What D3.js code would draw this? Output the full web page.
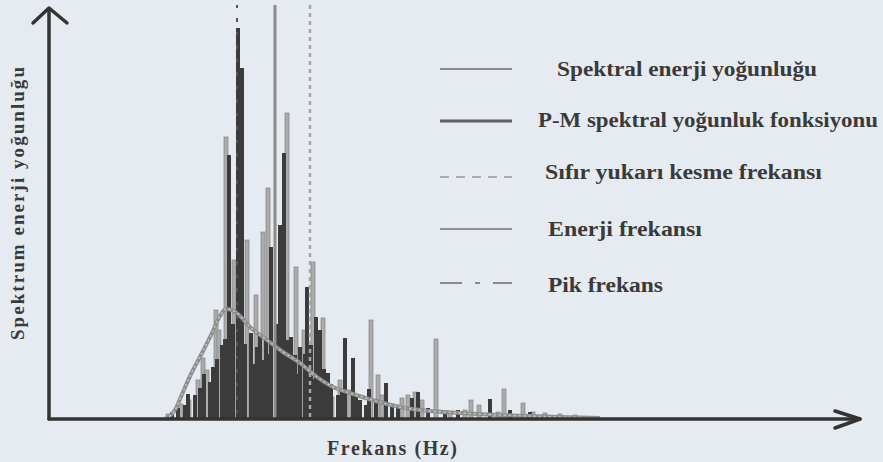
<!DOCTYPE html>
<html>
<head>
<meta charset="utf-8">
<script src="https://cdn.jsdelivr.net/npm/d3@7"></script>
<style>
  body { margin: 0; background: #e6eaf1; }
  svg { display: block; }
</style>
</head>
<body>
<div id="chart"></div>
<script>
"use strict";

// spectrum, dark series (Hz, density)
const darkFreq = [1.23, 1.29, 1.36, 1.39, 1.46, 1.51, 1.55, 1.61, 1.64, 1.68, 1.73, 1.76, 1.80, 1.84, 1.89, 1.93,
    1.96, 2.02, 2.05, 2.08, 2.11, 2.13, 2.17, 2.20, 2.22, 2.27, 2.29, 2.31, 2.35, 2.39, 2.42, 2.44, 2.46, 2.49,
    2.51, 2.56, 2.58, 2.62, 2.65, 2.67, 2.71, 2.75, 2.79, 2.82, 2.89, 2.93, 2.96, 3.04, 3.07, 3.11, 3.17, 3.20,
    3.27, 3.37, 3.43, 3.49, 3.63, 3.69, 3.79, 3.96, 4.09, 4.41, 4.61, 4.81];
const darkVal = [0.07, 0.11, 0.14, 0.25, 0.24, 0.31, 0.45, 0.37, 0.52, 0.60, 0.74, 0.80, 2.64, 0.95, 3.91, 3.51,
    0.75, 0.86, 0.55, 0.72, 0.85, 0.59, 0.79, 0.65, 1.72, 0.69, 0.95, 1.94, 2.66, 0.79, 0.82, 0.55, 0.64, 0.45,
    0.72, 0.65, 1.32, 0.74, 0.40, 1.02, 0.89, 0.50, 0.46, 0.35, 0.24, 0.28, 0.81, 0.61, 0.25, 0.19, 0.14, 0.30,
    0.20, 0.36, 0.14, 0.14, 0.21, 0.27, 0.11, 0.09, 0.09, 0.20, 0.09, 0.07];

// spectrum, grey series
const greyFreq = [1.19, 1.32, 1.40, 1.49, 1.54, 1.58, 1.67, 1.70, 1.77, 1.85, 1.98, 2.07, 2.14, 2.19, 2.38, 2.47,
    2.55, 2.64, 2.74, 2.83, 2.91, 3.00, 3.22, 3.29, 3.33, 3.53, 3.59, 3.66, 3.73, 3.87, 4.01, 4.16, 4.22, 4.30,
    4.49, 4.55, 4.74, 4.84, 4.96, 5.11, 5.26];
const greyVal = [0.05, 0.15, 0.19, 0.39, 0.61, 0.49, 1.09, 0.89, 2.82, 1.59, 1.79, 1.24, 1.87, 2.31, 3.06, 1.52,
    0.89, 1.57, 1.01, 0.22, 0.39, 0.29, 0.99, 0.44, 0.24, 0.21, 0.24, 0.27, 0.19, 0.80, 0.07, 0.09, 0.19, 0.14,
    0.07, 0.30, 0.16, 0.07, 0.06, 0.05, 0.04];

// P-M spectral density function
const pmFreq = [1.16, 1.26, 1.34, 1.43, 1.51, 1.63, 1.71, 1.77, 1.83, 1.91, 2.01, 2.18, 2.34, 2.51, 2.68, 2.84,
    3.01, 3.34, 3.51, 3.71, 4.11, 4.51, 5.11, 5.51];
const pmVal = [0.00, 0.09, 0.27, 0.47, 0.62, 0.86, 1.03, 1.10, 1.09, 1.03, 0.92, 0.79, 0.67, 0.56, 0.42, 0.32,
    0.26, 0.16, 0.12, 0.09, 0.06, 0.04, 0.02, 0.01];

// characteristic frequencies
const peakFreq = 1.88;
const energyFreq = 2.26;
const zeroUpFreq = 2.61;

const legendLabels = ["Spektral enerji yoğunluğu", "P-M spektral yoğunluk fonksiyonu",
    "Sıfır yukarı kesme frekansı", "Enerji frekansı", "Pik frekans"];
const xLabel = "Frekans (Hz)";
const yLabel = "Spektrum enerji yoğunluğu";

const msm = { width: 883, height: 462, left: 49, right: 860, top: 5, bottom: 419 };
const ink = "#333";
const serif = "Liberation Serif, Times New Roman, serif";

let svg = d3.select("#chart").append("svg")
    .attr("width", msm.width)
    .attr("height", msm.height);

let x = d3.scaleLinear().domain([0, 8.11]).range([msm.left, msm.right]);
let y = d3.scaleLinear().domain([0, 4.14]).range([msm.bottom, msm.top]);

// grey spectrum bars first, dark on top
svg.append("g").selectAll("rect")
    .data(d3.zip(greyFreq, greyVal))
    .enter().append("rect")
    .attr("x", d => x(d[0]) - 2)
    .attr("width", 4)
    .attr("y", d => y(d[1]))
    .attr("height", d => y(0) - y(d[1]))
    .attr("fill", "#ababab")
    .attr("stroke", "#858585")
    .attr("stroke-width", 0.7);

svg.append("g").selectAll("rect")
    .data(d3.zip(darkFreq, darkVal))
    .enter().append("rect")
    .attr("x", d => x(d[0]) - 2)
    .attr("width", 4)
    .attr("y", d => y(d[1]))
    .attr("height", d => y(0) - y(d[1]))
    .attr("fill", "#3b3b3b");

// P-M curve
let pmLine = d3.line()
    .x(d => x(d[0]))
    .y(d => y(d[1]))
    .curve(d3.curveMonotoneX);

svg.append("path")
    .datum(d3.zip(pmFreq, pmVal))
    .attr("d", pmLine)
    .attr("fill", "none")
    .attr("stroke", "#8e8e8e")
    .attr("stroke-width", 4);
svg.append("path")
    .datum(d3.zip(pmFreq, pmVal))
    .attr("d", pmLine)
    .attr("fill", "none")
    .attr("stroke", "#c8c8c8")
    .attr("stroke-width", 1.4)
    .attr("stroke-dasharray", "2,3");

// vertical frequency markers
const vStyles = [
    { f: peakFreq, color: "#555", w: 2, dash: "3,10,4,10" },
    { f: energyFreq, color: "#8c8c8c", w: 3, dash: null },
    { f: zeroUpFreq, color: "#a6a6a6", w: 2.5, dash: "4,4" }
];
svg.append("g").selectAll("line")
    .data(vStyles)
    .enter().append("line")
    .attr("x1", d => x(d.f)).attr("x2", d => x(d.f))
    .attr("y1", y(4.14)).attr("y2", y(0))
    .attr("stroke", d => d.color)
    .attr("stroke-width", d => d.w)
    .attr("stroke-dasharray", d => d.dash);

// axes with arrow heads
let axes = svg.append("g")
    .attr("fill", "none")
    .attr("stroke", ink)
    .attr("stroke-width", 3.5)
    .attr("stroke-linejoin", "round")
    .attr("stroke-linecap", "round");
axes.append("line").attr("x1", msm.left).attr("x2", msm.left).attr("y1", 9).attr("y2", msm.bottom);
axes.append("line").attr("x1", msm.left).attr("x2", msm.right).attr("y1", msm.bottom).attr("y2", msm.bottom);
axes.append("path").attr("d", `M33,23 L${msm.left},8 L67,23`);
axes.append("path").attr("d", `M835,411 L${msm.right},${msm.bottom} L835,428`);

// axis labels
svg.append("text")
    .attr("x", 327).attr("y", 455)
    .attr("textLength", 130)
    .attr("font-family", serif)
    .attr("font-size", 20)
    .attr("font-weight", "bold")
    .attr("fill", "#3a3a3a")
    .text(xLabel);

svg.append("text")
    .attr("transform", "translate(24,340) rotate(-90)")
    .attr("textLength", 273)
    .attr("font-family", serif)
    .attr("font-size", 19)
    .attr("font-weight", "bold")
    .attr("fill", "#3a3a3a")
    .text(yLabel);

// legend
const legRows = [
    { y: 69, tx: 557, ty: 76, len: 260, color: "#8a8a8a", w: 2, dash: null },
    { y: 121, tx: 538, ty: 127, len: 340, color: "#5e5e5e", w: 3, dash: null },
    { y: 177, tx: 545, ty: 179, len: 277, color: "#aaaaaa", w: 2, dash: "9,7" },
    { y: 229, tx: 548, ty: 236, len: 154, color: "#8f8f8f", w: 2, dash: null },
    { y: 283, tx: 548, ty: 292, len: 115, color: "#8a8a8a", w: 2, dash: "22,13,5,13" }
];
let leg = svg.append("g");
leg.selectAll("line")
    .data(legRows)
    .enter().append("line")
    .attr("x1", 440).attr("x2", 512)
    .attr("y1", d => d.y).attr("y2", d => d.y)
    .attr("stroke", d => d.color)
    .attr("stroke-width", d => d.w)
    .attr("stroke-dasharray", d => d.dash);
leg.selectAll("text")
    .data(legRows)
    .enter().append("text")
    .attr("x", d => d.tx).attr("y", d => d.ty)
    .attr("textLength", d => d.len)
    .attr("lengthAdjust", "spacingAndGlyphs")
    .attr("font-family", serif)
    .attr("font-size", 20)
    .attr("font-weight", "bold")
    .attr("fill", "#3a3a3a")
    .text((d, i) => legendLabels[i]);
</script>
</body>
</html>
